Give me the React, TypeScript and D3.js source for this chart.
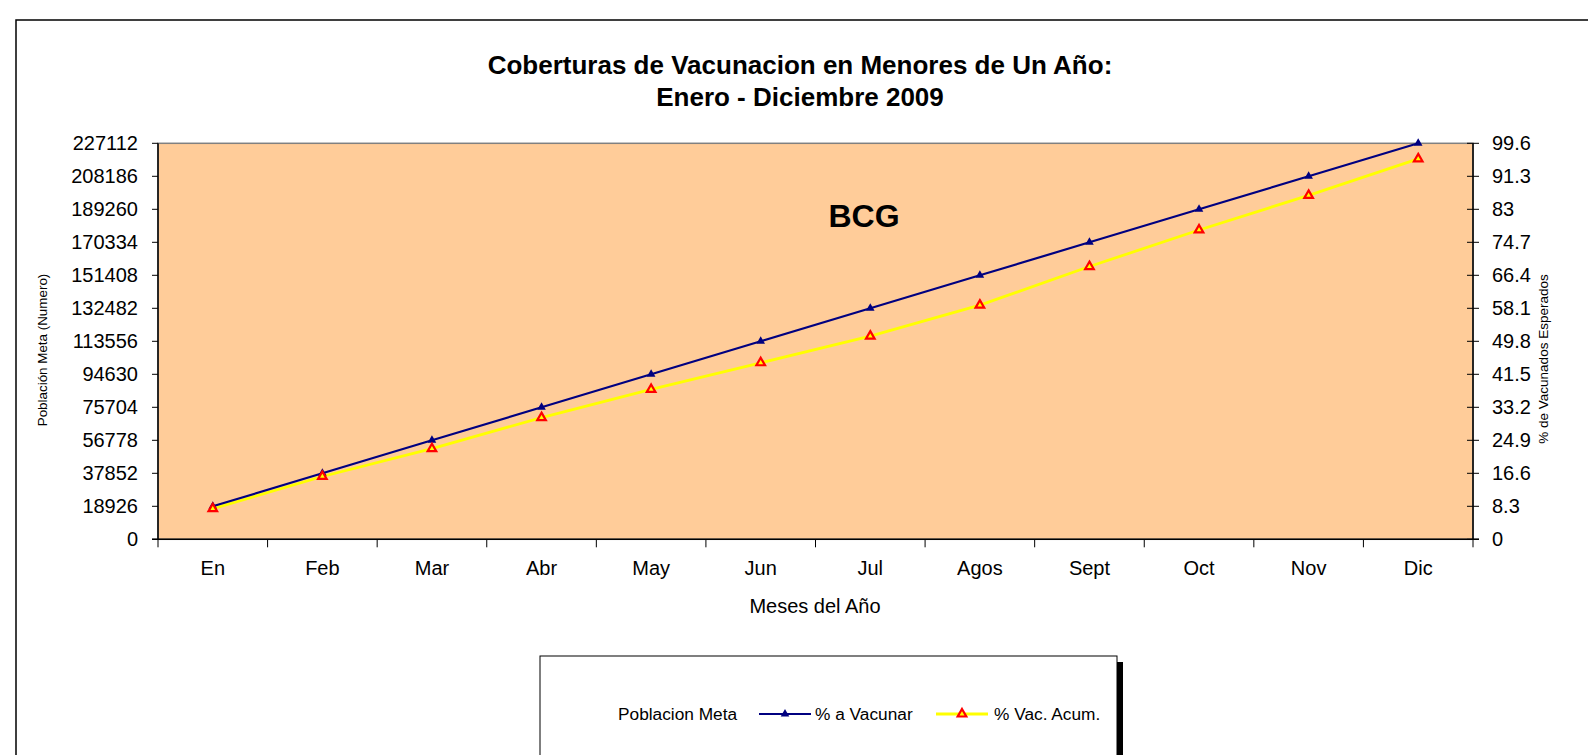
import React from "react";
import * as d3 from "d3";

// datos
const meses = ["En", "Feb", "Mar", "Abr", "May", "Jun", "Jul", "Agos", "Sept", "Oct", "Nov", "Dic"];
const poblacionMeta = 227112;
const pctAVacunar = [8.3, 16.6, 24.9, 33.2, 41.5, 49.8, 58.1, 66.4, 74.7, 83, 91.3, 99.6];
const pctVacAcum = [7.7, 15.8, 22.8, 30.6, 37.7, 44.4, 51.1, 58.9, 68.6, 77.8, 86.5, 95.7];
const ticksIzq = [0, 18926, 37852, 56778, 75704, 94630, 113556, 132482, 151408, 170334, 189260, 208186, 227112];
const ticksDer = [0, 8.3, 16.6, 24.9, 33.2, 41.5, 49.8, 58.1, 66.4, 74.7, 83, 91.3, 99.6];

const W = 1588;
const H = 755;
const font = "'Liberation Sans', Arial, sans-serif";

export default function App() {
  const left = 158, right = 1473, top = 143.3, bottom = 539.3;

  const x = d3.scaleBand<string>().domain(meses).range([left, right]).padding(0);
  const yIzq = d3.scaleLinear().domain([0, poblacionMeta]).range([bottom, top]);
  const yDer = d3.scaleLinear().domain([0, 99.6]).range([bottom, top]);
  const cx = (m: string) => (x(m) ?? 0) + x.bandwidth() / 2;

  const linea = d3
    .line<number>()
    .x((_, i) => cx(meses[i]))
    .y((d) => yDer(d));

  const tri = d3.symbol().type(d3.symbolTriangle).size(32)() as string;

  const bordes = [...meses.map((m) => x(m) ?? 0), right];
  const yLey = 714;

  return (
    <div>
      <style>{`body{margin:0}`}</style>
      <svg width={W} height={H} style={{ display: "block", fontFamily: font }}>
        <rect x={0} y={0} width={W} height={H} fill="#fff" />
        {/* marco del gráfico */}
        <rect x={16} y={20} width={1600} height={800} fill="#fff" stroke="#000" strokeWidth={1.5} />

        {/* título */}
        <text x={800} y={65} textAnchor="middle" dominantBaseline="central" fontSize={26} fontWeight="bold">
          Coberturas de Vacunacion en Menores de Un Año:
        </text>
        <text x={800} y={97} textAnchor="middle" dominantBaseline="central" fontSize={26} fontWeight="bold">
          Enero - Diciembre 2009
        </text>

        {/* área de trazado */}
        <rect x={left} y={top} width={right - left} height={bottom - top} fill="#FFCC99" stroke="#808080" strokeWidth={1.5} />

        <text x={864} y={216} textAnchor="middle" dominantBaseline="central" fontSize={32} fontWeight="bold">
          BCG
        </text>

        {/* eje izquierdo */}
        <line x1={left} x2={left} y1={top} y2={bottom} stroke="#000" strokeWidth={1.5} />
        {ticksIzq.map((t) => (
          <g key={"l" + t}>
            <line x1={left - 6} x2={left} y1={yIzq(t)} y2={yIzq(t)} stroke="#000" />
            <text x={138} y={yIzq(t)} textAnchor="end" dominantBaseline="central" fontSize={20}>
              {t}
            </text>
          </g>
        ))}
        <text transform={`translate(47,350) rotate(-90)`} textAnchor="middle" fontSize={13.4}>
          Población Meta (Numero)
        </text>

        {/* eje derecho */}
        <line x1={right} x2={right} y1={top} y2={bottom} stroke="#000" strokeWidth={1.5} />
        {ticksDer.map((t) => (
          <g key={"r" + t}>
            <line x1={right - 6} x2={right + 6} y1={yDer(t)} y2={yDer(t)} stroke="#000" />
            <text x={1492} y={yDer(t)} dominantBaseline="central" fontSize={20}>
              {t}
            </text>
          </g>
        ))}
        <text transform={`translate(1548,359) rotate(-90)`} textAnchor="middle" fontSize={13.5}>
          % de Vacunados Esperados
        </text>

        {/* eje X */}
        <line x1={left - 6} x2={right + 6} y1={bottom} y2={bottom} stroke="#000" strokeWidth={1.5} />
        {bordes.map((b, i) => (
          <line key={"t" + i} x1={b} x2={b} y1={bottom} y2={bottom + 8} stroke="#000" />
        ))}
        {meses.map((m) => (
          <text key={m} x={cx(m)} y={568} textAnchor="middle" dominantBaseline="central" fontSize={20}>
            {m}
          </text>
        ))}
        <text x={815} y={606} textAnchor="middle" dominantBaseline="central" fontSize={20}>
          Meses del Año
        </text>

        {/* series */}
        <path d={linea(pctVacAcum) ?? ""} fill="none" stroke="#FFFF00" strokeWidth={2.8} />
        <path d={linea(pctAVacunar) ?? ""} fill="none" stroke="#000080" strokeWidth={2.2} />
        {pctAVacunar.map((v, i) => (
          <path key={"a" + i} d={tri} transform={`translate(${cx(meses[i])},${yDer(v)})`} fill="#000080" />
        ))}
        {pctVacAcum.map((v, i) => (
          <path
            key={"b" + i}
            d={tri}
            transform={`translate(${cx(meses[i])},${yDer(v)})`}
            fill="#FFFF00"
            stroke="#FF0000"
            strokeWidth={2.2}
          />
        ))}

        {/* leyenda */}
        <rect x={1117} y={662} width={6} height={120} fill="#000" />
        <rect x={540} y={656} width={577} height={130} fill="#fff" stroke="#000" strokeWidth={1} />
        <text x={618} y={yLey} dominantBaseline="central" fontSize={17.3}>
          Poblacion Meta
        </text>
        <line x1={759} x2={811} y1={yLey} y2={yLey} stroke="#000080" strokeWidth={2.2} />
        <path d={tri} transform={`translate(785,${yLey})`} fill="#000080" />
        <text x={815} y={yLey} dominantBaseline="central" fontSize={17.3}>
          % a Vacunar
        </text>
        <line x1={936} x2={988} y1={yLey} y2={yLey} stroke="#FFFF00" strokeWidth={2.8} />
        <path d={tri} transform={`translate(962,${yLey})`} fill="#FFFF00" stroke="#FF0000" strokeWidth={2.2} />
        <text x={994} y={yLey} dominantBaseline="central" fontSize={17.3}>
          % Vac. Acum.
        </text>
      </svg>
    </div>
  );
}
